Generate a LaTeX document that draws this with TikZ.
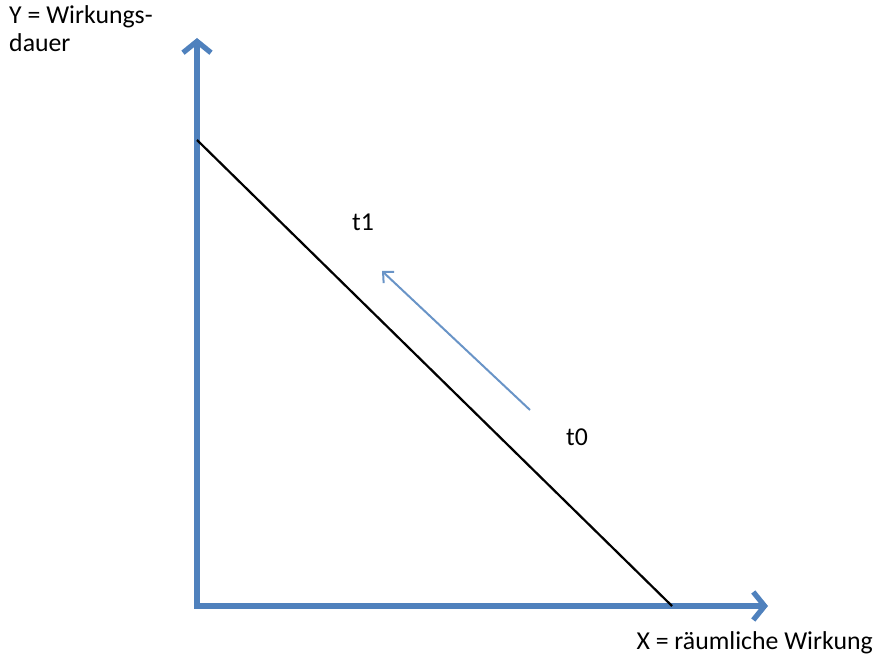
\documentclass[tikz,border=0pt]{standalone}
\usepackage{fontspec}
\setmainfont{Carlito}
\usetikzlibrary{arrows.meta, positioning}
\definecolor{axisblue}{RGB}{79,129,189}
\tikzset{
  axisline/.style={
    draw=axisblue, line width=4.5pt,
    -{Straight Barb[length=3.4mm, width=8.4mm, line width=4.5pt]}
  },
  curveline/.style={draw=black, line width=1.9pt},
  shiftarrow/.style={
    draw=axisblue!85, line width=1.7pt,
    -{Straight Barb[length=2.4mm, width=4.6mm, line width=1.7pt]}
  },
  axislabel/.style={font=\fontsize{22}{24}\selectfont, align=left, inner sep=0pt},
  pointlabel/.style={font=\fontsize{22}{24}\selectfont, inner sep=0pt}
}
\begin{document}
\begin{tikzpicture}[x=0.03cm, y=-0.03cm]
  \useasboundingbox (0,0) rectangle (874,657);

  % axes
  \coordinate (origin) at (197,606);
  \coordinate (ytop) at (197,38);
  \coordinate (xend) at (768,606);
  \draw[axisline] ([yshift=-2.2pt]origin) -- (ytop);
  \draw[axisline] ([xshift=-2.2pt]origin) -- (xend);

  % axis labels
  \node[axislabel, anchor=north west] (ylab) at (9,5) {Y = Wirkungs-\\dauer};
  \node[axislabel, anchor=east] (xlab) at (873,643) {X = räumliche Wirkung};

  % line
  \coordinate (lstart) at (197,140);
  \coordinate (lend) at (672,606);
  \draw[curveline] (lstart) -- (lend);

  % shift
  \coordinate (sfrom) at (530,410);
  \coordinate (sto) at (382,271);
  \draw[shiftarrow] (sfrom) -- (sto);

  \node[pointlabel] (tone) at (363,222) {t1};
  \node[pointlabel] (tzero) at (577,437) {t0};
\end{tikzpicture}
\end{document}
